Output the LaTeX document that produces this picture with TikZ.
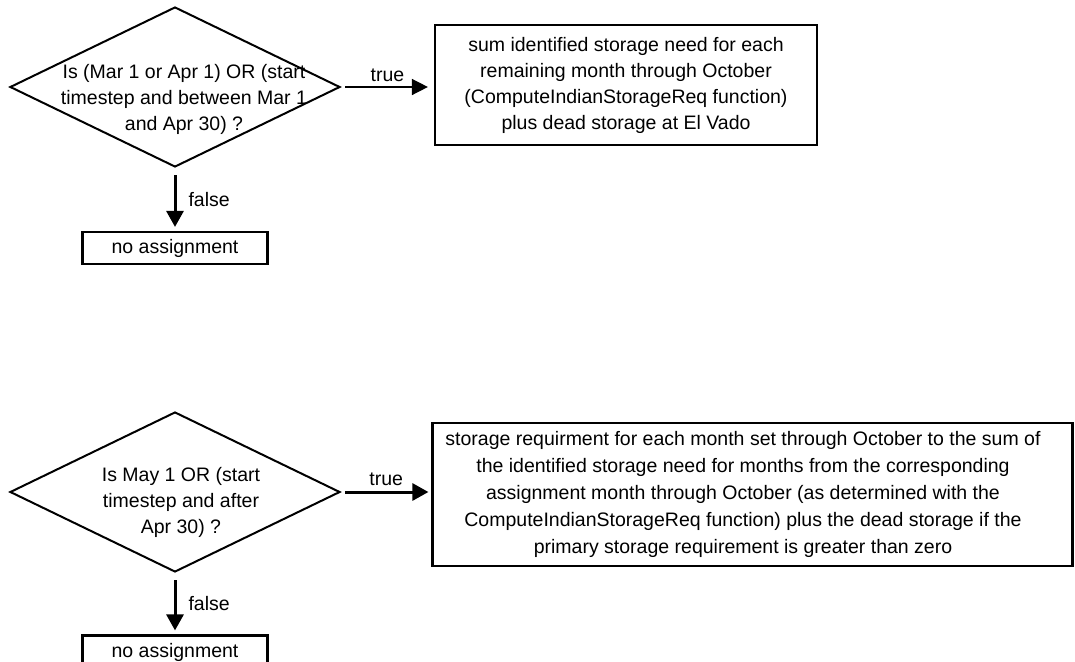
\documentclass[tikz,border=0pt]{standalone}
\usepackage{fontspec}
\setmainfont{Liberation Sans}
\usetikzlibrary{shapes.geometric,arrows.meta}
\begin{document}
\begin{tikzpicture}[x=1pt,y=-1pt,
  txt/.style={font=\fontsize{19.5}{26}\selectfont, inner sep=0pt, align=center},
  decision/.style={draw, diamond, line width=2pt, minimum width=330pt, minimum height=160pt, inner sep=0pt},
  procbox/.style={draw, rectangle, line width=2.2pt, inner sep=0pt, align=center, font=\fontsize{19.5}{26}\selectfont},
  thinflow/.style={line width=1.5pt, -{Triangle[length=16pt,width=16pt]}},
  thickflow/.style={line width=3pt, -{Triangle[length=16pt,width=17pt]}},
  flowlabel/.style={font=\fontsize{19.5}{24}\selectfont, inner sep=0pt}
]
\useasboundingbox (0,0) rectangle (1075,661);
\clip (0,0) rectangle (1075,661);
\fill[white] (0,0) rectangle (1075,661);

% ---------- first decision: March / April assignment ----------
\node[decision] (d1) at (175,87) {};
\node[txt] (q1) at (184,99) {Is (Mar 1 or Apr 1) OR (start\\timestep and between Mar 1\\and Apr 30) ?};

\node[procbox, minimum width=382pt, minimum height=120pt] (b1) at (626,85)
  {sum identified storage need for each\\remaining month through October\\(ComputeIndianStorageReq function)\\plus dead storage at El Vado};

\node[procbox, minimum width=185pt, minimum height=32pt] (n1) at (175,248) {no assignment};

\draw[thinflow, shorten <=4pt, shorten >=6pt] (d1.east) -- (b1.west |- d1.east)
  node[flowlabel, midway, above=5pt] {true};
\draw[thickflow, shorten <=7pt, shorten >=4pt] (d1.south) -- (n1.north)
  node[flowlabel, midway, right=12pt] {false};

% ---------- second decision: May assignment ----------
\node[decision] (d2) at (175,492) {};
\node[txt] (q2) at (181,502) {Is May 1 OR (start\\timestep and after\\Apr 30) ?};

\node[draw, rectangle, line width=2.2pt, minimum width=640pt, minimum height=143pt] (b2) at (752.5,494.5) {};
\node[txt, font=\fontsize{19.5}{27}\selectfont] (t2) at (743,494)
  {storage requirment for each month set through October to the sum of\\
   the identified storage need for months from the corresponding\\
   assignment month through October (as determined with the\\
   ComputeIndianStorageReq function) plus the dead storage if the\\
   primary storage requirement is greater than zero};

\node[procbox, minimum width=185pt, minimum height=33pt] (n2) at (175,652) {no assignment};

\draw[thickflow, shorten <=4pt, shorten >=3pt] (d2.east) -- (b2.west |- d2.east)
  node[flowlabel, midway, above=5pt] {true};
\draw[thickflow, shorten <=7pt, shorten >=4pt] (d2.south) -- (n2.north)
  node[flowlabel, midway, right=12pt] {false};
\end{tikzpicture}
\end{document}
